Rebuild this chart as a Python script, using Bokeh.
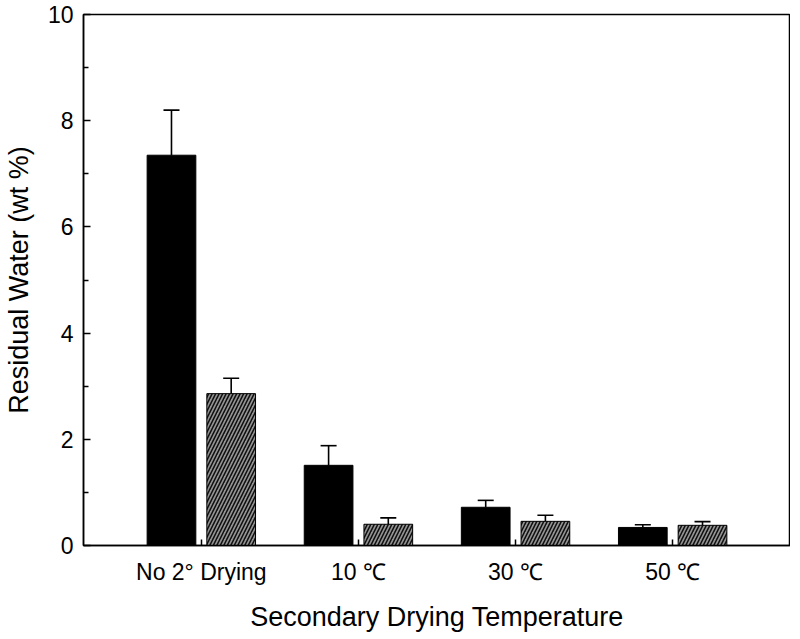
from bokeh.plotting import figure
from bokeh.models import Range1d, FixedTicker, Whisker, TeeHead, ColumnDataSource
from bokeh.transform import dodge
from bokeh.embed import file_html
from bokeh.resources import INLINE

categories = ["No 2° Drying", "10 ℃", "30 ℃", "50 ℃"]
black_mean = [7.35, 1.51, 0.72, 0.34]
black_err = [0.85, 0.37, 0.13, 0.05]
hatch_mean = [2.86, 0.40, 0.455, 0.38]
hatch_err = [0.29, 0.12, 0.115, 0.07]
y_ticks = [0, 2, 4, 6, 8, 10]
y_minor_ticks = [1, 3, 5, 7, 9]

idx = list(range(len(categories)))
src = ColumnDataSource(dict(
    x=idx,
    bm=black_mean,
    bu=[m + e for m, e in zip(black_mean, black_err)],
    hm=hatch_mean,
    hu=[m + e for m, e in zip(hatch_mean, hatch_err)],
))

FONT = "Liberation Sans"

p = figure(frame_width=707, frame_height=531,
           x_range=Range1d(-0.75, len(categories) - 0.25),
           y_range=Range1d(0, 10),
           output_backend="svg", toolbar_location=None,
           min_border_left=75, min_border_top=14, min_border_right=0,
           min_border_bottom=78, background_fill_color="white",
           border_fill_color="white")

p.xgrid.visible = False
p.ygrid.visible = False
p.outline_line_color = "black"
p.outline_line_width = 1.5
p.outline_line_alpha = 1.0

OFF = 0.19
W = 0.31

p.vbar(x=dodge("x", -OFF), width=W, top="bm", bottom=0, source=src,
       fill_color="black", line_color="black", line_width=1)
p.vbar(x=dodge("x", OFF), width=W, top="hm", bottom=0, source=src,
       fill_color="#959595", line_color="black", line_width=1,
       hatch_pattern="/", hatch_color="#111111", hatch_scale=7, hatch_weight=1.6)

for off, lo, up in [(-OFF, "bm", "bu"), (OFF, "hm", "hu")]:
    w = Whisker(source=src, base=dodge("x", off), lower=lo, upper=up,
                line_color="black", line_width=1.6,
                upper_head=TeeHead(size=16, line_width=1.6, line_color="black"),
                lower_head=None)
    p.add_layout(w)

# x axis
p.xaxis.ticker = FixedTicker(ticks=idx)
p.xaxis.major_label_overrides = {i: c for i, c in enumerate(categories)}
p.xaxis.major_tick_in = 6
p.xaxis.major_tick_out = 0
p.xaxis.minor_tick_in = 0
p.xaxis.minor_tick_out = 0
p.xaxis.axis_label = "Secondary Drying Temperature"
p.xaxis.major_label_standoff = 13
p.xaxis.axis_label_standoff = 14

# y axis
p.yaxis.ticker = FixedTicker(ticks=y_ticks, minor_ticks=y_minor_ticks)
p.yaxis.major_tick_in = 7
p.yaxis.major_tick_out = 0
p.yaxis.minor_tick_in = 5
p.yaxis.minor_tick_out = 0
p.yaxis.axis_label = "Residual Water (wt %)"
p.yaxis.major_label_standoff = 10
p.yaxis.axis_label_standoff = 11

for ax in (p.xaxis[0], p.yaxis[0]):
    ax.axis_line_width = 1.5
    ax.axis_line_color = "black"
    ax.major_tick_line_width = 1.5
    ax.minor_tick_line_width = 1.5
    ax.major_tick_line_color = "black"
    ax.minor_tick_line_color = "black"
    ax.major_label_text_font = FONT
    ax.major_label_text_font_size = "23px"
    ax.major_label_text_color = "black"
    ax.axis_label_text_font = FONT
    ax.axis_label_text_font_size = "27px"
    ax.axis_label_text_font_style = "normal"
    ax.axis_label_text_color = "black"

open("out.html", "w").write(file_html(p, INLINE))
